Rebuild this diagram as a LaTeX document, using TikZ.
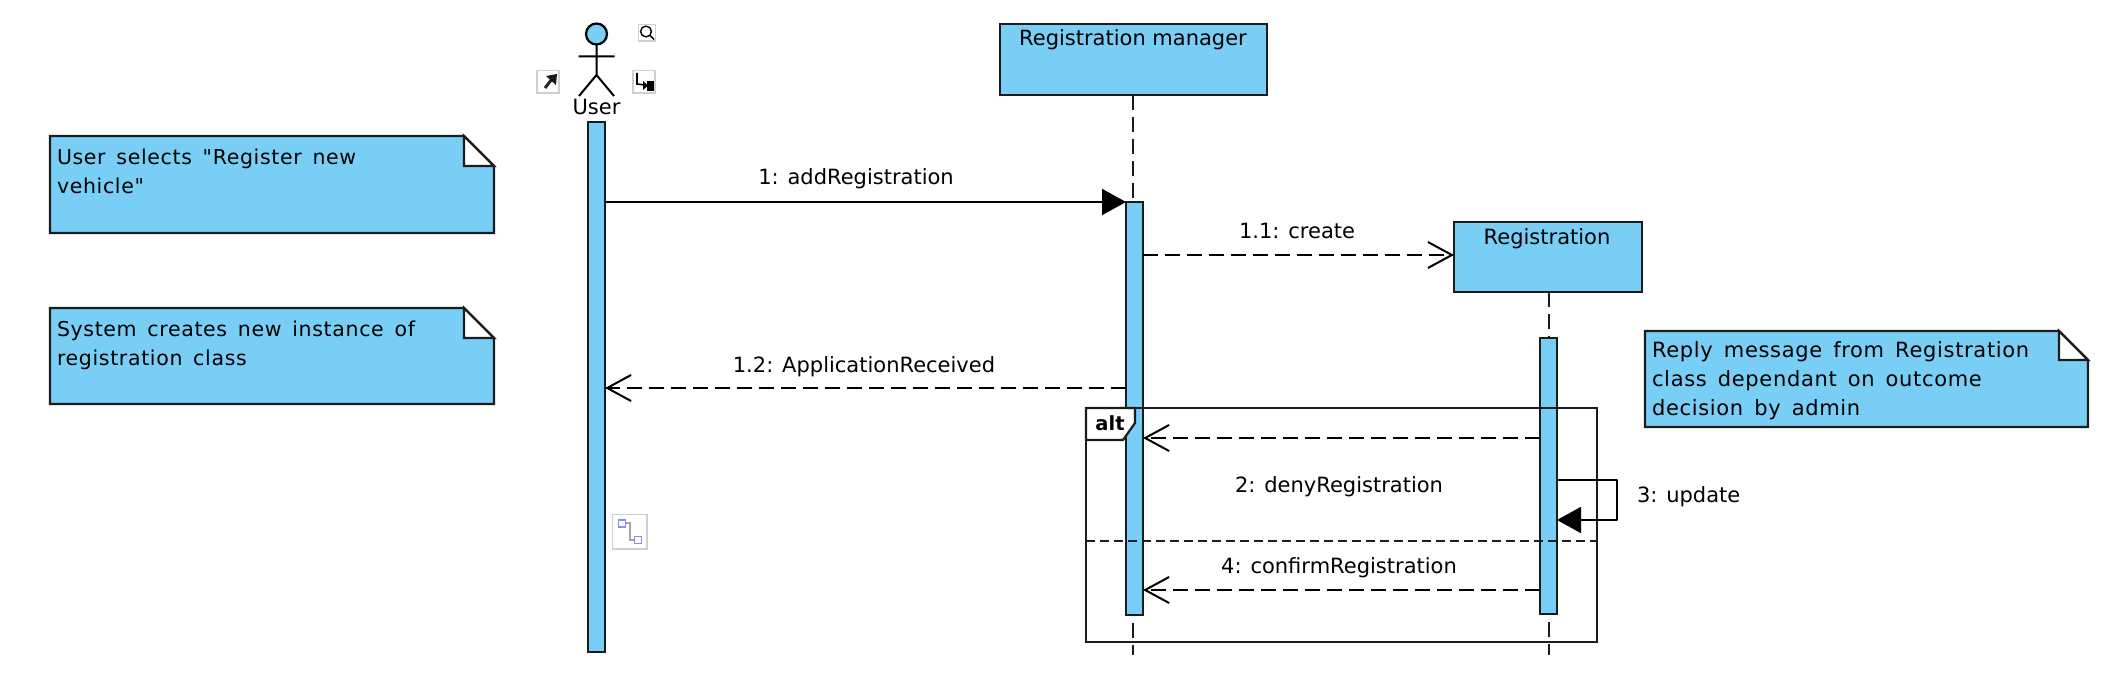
\documentclass[tikz,border=0pt]{standalone}
\usepackage{fontspec}
\setmainfont{DejaVu Sans}
\newfontfamily\notefont[LetterSpace=3.2,WordSpace=1.5]{DejaVu Sans}
\usetikzlibrary{arrows.meta,calc}
\definecolor{umlblue}{HTML}{79CEF5}
\definecolor{umlline}{HTML}{1C1C1C}
\definecolor{iconedge}{HTML}{CFCFCF}
\tikzset{
  txt/.style={font=\fontsize{21}{29}\selectfont,inner sep=0pt,outer sep=0pt,text=black},
  msglabel/.style={txt,anchor=base},
  notetext/.style={txt,font=\notefont\fontsize{20.5}{29}\selectfont,anchor=north west,align=left},
  objbox/.style={draw=umlline,fill=umlblue,line width=2.4pt,inner sep=0pt,outer sep=0pt,rectangle},
  activation/.style={objbox,minimum width=17pt},
  lifeline/.style={draw=umlline,line width=2pt,dash pattern=on 15pt off 7pt},
  msgsync/.style={draw=black,line width=2pt,-{Triangle[length=24pt,width=26pt]},shorten >=0pt},
  msgreply/.style={draw=black,line width=2pt,dash pattern=on 15pt off 7pt,-{Straight Barb[length=24pt,width=26pt,line width=2pt]}},
  notebody/.style={draw=umlline,fill=umlblue,line width=2.4pt,line join=miter},
  notefold/.style={draw=umlline,fill=white,line width=2.4pt,line join=miter},
  framepen/.style={draw=umlline,line width=2.2pt},
  iconbox/.style={draw=iconedge,fill=white,line width=1.5pt},
}
\begin{document}
\begin{tikzpicture}[x=1pt,y=-1pt]
\useasboundingbox (0,0) rectangle (2108,690);
\fill[white] (0,0) rectangle (2108,690);

% Object boxes
\node[objbox,minimum width=267pt,minimum height=71pt] (mgr) at (1133.5,59.5) {};
\node[objbox,minimum width=188pt,minimum height=70pt] (reg) at (1548,257) {};
\node[msglabel] (mgrt) at (1133,46) {Registration manager};
\node[msglabel] (regt) at (1547,244) {Registration};

% Lifeline end points
\coordinate (mgrend) at (1132.5,655);
\coordinate (regend) at (1548.5,655);
\draw[lifeline] (1132.5,95) -- (mgrend);
\draw[lifeline] (1548.5,292) -- (regend);

% Activations
\node[activation,minimum height=530pt] (actU) at (596.5,387) {};
\node[activation,minimum height=413pt] (actM) at (1134.5,408.5) {};
\node[activation,minimum height=276pt] (actR) at (1548.5,476) {};

% Actor
\draw[line width=2.2pt,draw=black,fill=umlblue] (596.5,34) circle[radius=10.5pt];
\draw[line width=2pt,draw=black] (596.5,44.5) -- (596.5,75)
  (578.5,56.5) -- (614.5,56.5)
  (579,96) -- (596.5,75) -- (614,96);
\node[msglabel] (usert) at (596.5,115) {User};

% Notes
\path[notebody] (50,136) -- (464,136) -- (494,166) -- (494,233) -- (50,233) -- cycle;
\path[notefold] (464,136) -- (494,166) -- (464,166) -- cycle;
\node[notetext] (n1) at (57,149) {User selects \symbol{34}Register new\\vehicle\symbol{34}};
\path[notebody] (50,308) -- (464,308) -- (494,338) -- (494,404) -- (50,404) -- cycle;
\path[notefold] (464,308) -- (494,338) -- (464,338) -- cycle;
\node[notetext] (n2) at (57,321) {System creates new instance of\\registration class};
\path[notebody] (1645,331) -- (2059,331) -- (2088,360) -- (2088,427) -- (1645,427) -- cycle;
\path[notefold] (2059,331) -- (2088,360) -- (2059,360) -- cycle;
\node[notetext,font=\notefont\fontsize{21}{29}\selectfont] (n3) at (1652,342) {Reply message from Registration\\class dependant on outcome\\decision by admin};

% Alt frame
\node[framepen,rectangle,inner sep=0pt,outer sep=0pt,minimum width=510.5pt,minimum height=234pt] (altf) at (1341.5,525) {};
\path[draw=umlline,fill=white,line width=2.2pt,line join=miter] (1086,408) -- (1135,408) -- (1135,423) -- (1123,440) -- (1086,440) -- cycle;
\node[txt,font=\fontsize{19.5}{24}\selectfont\bfseries] (altt) at (1110,423) {alt};
\coordinate (divY) at (0,541);
\draw[draw=umlline,line width=2pt,dash pattern=on 9pt off 5pt] (altf.west |- divY) -- (altf.east |- divY);

% Message levels
\coordinate (y1) at (0,202);
\coordinate (y11) at (0,255);
\coordinate (y12) at (0,388);
\coordinate (y2) at (0,438);
\coordinate (y3a) at (0,480);
\coordinate (y3b) at (0,520);
\coordinate (y4) at (0,590);
\coordinate (loopx) at (1617,0);

% Messages
\draw[msgsync] (actU.east |- y1) -- (actM.west |- y1);
\node[msglabel] (l1) at (856,184) {1: addRegistration};
\draw[msgreply] (actM.east |- y11) -- (reg.west |- y11);
\node[msglabel] (l11) at (1297,238) {1.1: create};
\draw[msgreply] (actM.west |- y12) -- (actU.east |- y12);
\node[msglabel] (l12) at (864,372) {1.2: ApplicationReceived};
\draw[msgreply] (actR.west |- y2) -- (actM.east |- y2);
\node[msglabel] (l2) at (1339,492) {2: denyRegistration};
\draw[msgsync,line join=round] (actR.east |- y3a) -- (loopx |- y3a) -- (loopx |- y3b) -- (actR.east |- y3b);
\node[msglabel,anchor=base west] (l3) at (1637,502) {3: update};
\draw[msgreply] (actR.west |- y4) -- (actM.east |- y4);
\node[msglabel] (l4) at (1339,573) {4: confirmRegistration};

% Toolbar icons (magnifier, arrow, reroute, connector)
\path[iconbox] (638.5,24.5) rectangle (655.5,41);
\draw[black,line width=1.4pt] (646,31.5) circle[radius=5.4pt] (650,35.5) -- (654,39.5);
\path[iconbox] (537,70.5) rectangle (559,93);
\draw[black!85,line width=3pt] (545,88) -- (552,79);
\fill[black!90] (546,76) -- (557,74) -- (556,85) -- cycle;
\path[iconbox] (633,70.5) rectangle (655,93);
\draw[black,line width=1.6pt] (637,73) -- (637,84) -- (645,85);
\fill[black] (643,81) -- (648,85.5) -- (643,90) -- cycle;
\fill[black] (647,81) rectangle (654,91.5);
\path[iconbox] (612.5,514.5) rectangle (647,549);
\draw[gray!70,line width=1.8pt] (622,523) -- (630,523) -- (630,540) -- (638,540);
\path[draw=blue!45,fill=white,line width=1.5pt] (618.5,520) rectangle (625.5,527);
\path[draw=blue!45,fill=white,line width=1.5pt] (634.5,536.5) rectangle (641.5,543.5);
\end{tikzpicture}
\end{document}
